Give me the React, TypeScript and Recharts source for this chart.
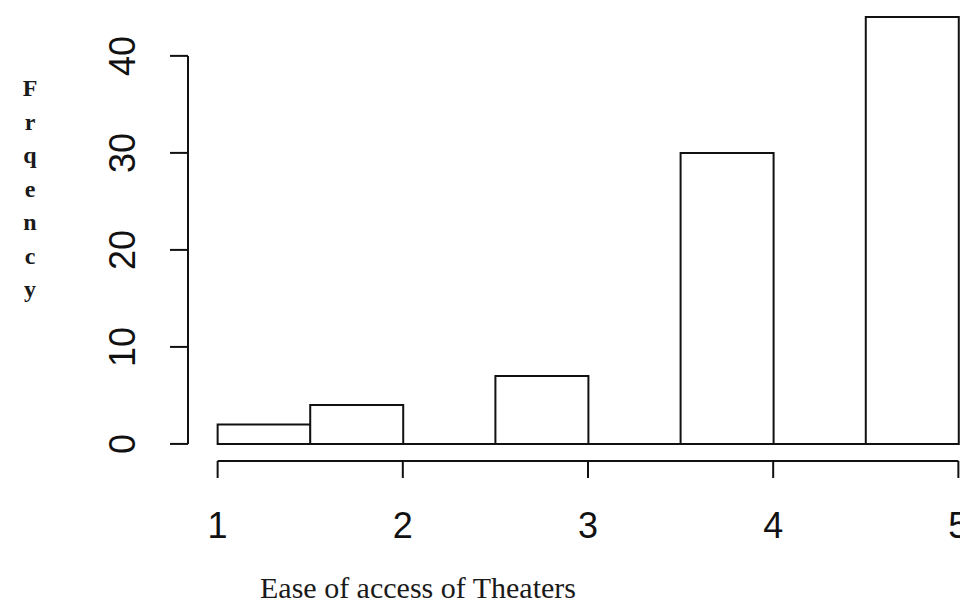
import { ComposedChart, Bar, XAxis, YAxis, ReferenceLine, Label } from 'recharts';

// histogram bins (left edges) and counts
const binStarts = [1, 1.5, 2, 2.5, 3, 3.5, 4, 4.5];
const binWidth = 0.5;
const counts = [2, 4, 0, 7, 0, 30, 0, 44];

const xTicks = [1, 2, 3, 4, 5];
const yTicks = [0, 10, 20, 30, 40];
const xLim = [1, 5];
const yLim = [0, 44];

const xTitle = 'Ease of access of Theaters';
const yTitle = 'Frqency';

// R pads the plot region by 4% of the range on each side
const pad = 0.04;
const xDomain = [xLim[0] - pad * (xLim[1] - xLim[0]), xLim[1] + pad * (xLim[1] - xLim[0])];
const yDomain = [yLim[0] - pad * (yLim[1] - yLim[0]), yLim[1] + pad * (yLim[1] - yLim[0])];

const data = binStarts.map((b, i) => ({ mid: b + binWidth / 2, count: counts[i] }));

const sans = '"Liberation Sans", Arial, sans-serif';
const serif = '"Liberation Serif", "Times New Roman", serif';
const ink = '#111';

const XTick = ({ x, y, payload }: any) => (
  <text x={x} y={y} textAnchor="middle" fontFamily={sans} fontSize={36} fill={ink}>
    {payload.value}
  </text>
);

const YTick = ({ x, y, payload }: any) => (
  <text
    x={x}
    y={y}
    transform={`rotate(-90 ${x} ${y})`}
    textAnchor="middle"
    fontFamily={sans}
    fontSize={36}
    fill={ink}
  >
    {payload.value}
  </text>
);

export default function App() {
  return (
    <div
      style={{
        position: 'absolute',
        left: 0,
        top: 0,
        width: 960,
        height: 604,
        overflow: 'hidden',
        background: '#fff',
      }}
    >
      <ComposedChart
        width={1000}
        height={604}
        data={data}
        margin={{ top: 0, right: 12, bottom: 0, left: 0 }}
        barCategoryGap={0}
        barGap={0}
      >
        <XAxis
          dataKey="mid"
          type="number"
          domain={xDomain}
          ticks={xTicks}
          allowDataOverflow
          height={143}
          axisLine={false}
          tickSize={17}
          tickMargin={60}
          tickLine={{ stroke: ink, strokeWidth: 2 }}
          tick={<XTick />}
          interval={0}
        >
          <Label
            content={({ viewBox }: any) => (
              <text
                x={viewBox.x + 72}
                y={viewBox.y + 137}
                fontFamily={serif}
                fontSize={30}
                fill="#1a1a1a"
              >
                {xTitle}
              </text>
            )}
          />
        </XAxis>
        <YAxis
          type="number"
          domain={yDomain}
          ticks={yTicks}
          allowDataOverflow
          width={188}
          axisLine={false}
          tickSize={18}
          tickMargin={35}
          tickLine={{ stroke: ink, strokeWidth: 2 }}
          tick={<YTick />}
          interval={0}
        >
          <Label
            content={() => (
              <text
                x={30}
                y={96}
                textAnchor="middle"
                fontFamily={serif}
                fontSize={24}
                fontWeight={600}
                fill="#1a1a1a"
              >
                {yTitle.split('').map((ch, i) => (
                  <tspan key={i} x={30} dy={i === 0 ? 0 : 33.5}>
                    {ch}
                  </tspan>
                ))}
              </text>
            )}
          />
        </YAxis>
        {/* axis lines only span the tick range, like R */}
        <ReferenceLine
          segment={[
            { x: xDomain[0], y: yTicks[0] },
            { x: xDomain[0], y: yTicks[yTicks.length - 1] },
          ]}
          stroke={ink}
          strokeWidth={2}
          ifOverflow="visible"
        />
        <ReferenceLine
          segment={[
            { x: xTicks[0], y: yDomain[0] },
            { x: xTicks[xTicks.length - 1], y: yDomain[0] },
          ]}
          stroke={ink}
          strokeWidth={2}
          ifOverflow="visible"
        />
        {/* empty bins still show as a line on the baseline */}
        <ReferenceLine
          segment={[
            { x: xLim[0], y: 0 },
            { x: xLim[1], y: 0 },
          ]}
          stroke={ink}
          strokeWidth={2}
          ifOverflow="visible"
        />
        <Bar dataKey="count" fill="#fff" stroke={ink} strokeWidth={2} isAnimationActive={false} />
      </ComposedChart>
    </div>
  );
}
